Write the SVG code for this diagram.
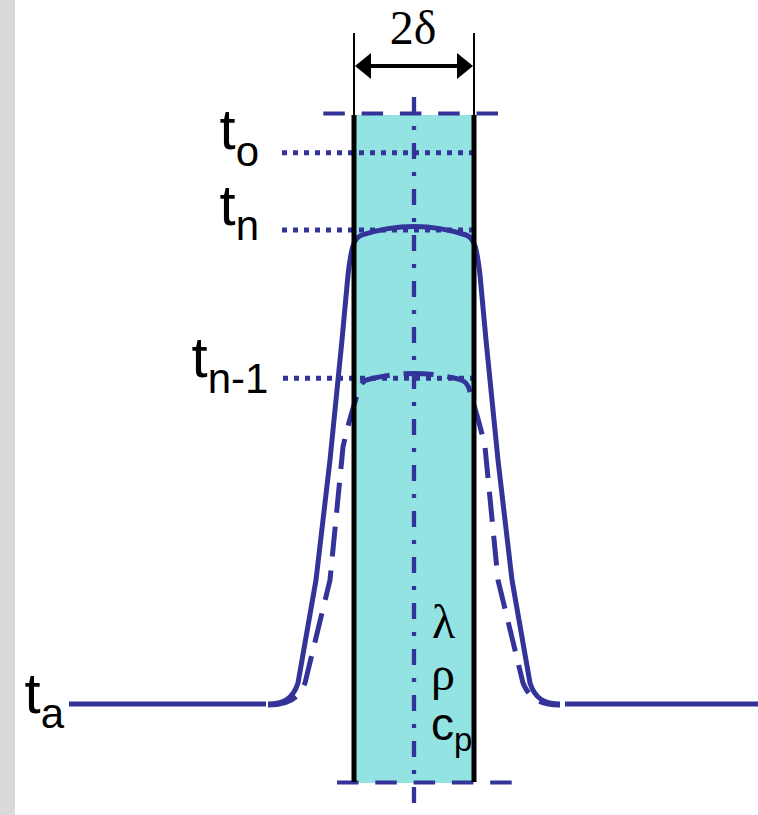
<svg xmlns="http://www.w3.org/2000/svg" width="758" height="815" viewBox="0 0 758 815">
<style>
.blue{fill:none;stroke:#333399;stroke-width:5}
.dot{fill:none;stroke:#333399;stroke-width:5;stroke-dasharray:5 6}
.dash{fill:none;stroke:#333399;stroke-width:4;stroke-dasharray:21.5 16.8}
.lbl{font-family:"Liberation Sans",Arial,sans-serif;fill:#000}
.grk{font-family:"Liberation Serif","Times New Roman",serif;fill:#000}
</style>
<rect x="0" y="0" width="758" height="815" fill="#fff"/>
<rect x="0" y="0" width="15" height="815" fill="#d9d9d9"/>
<g id="plate">
<rect x="354" y="115" width="120" height="668" fill="#94e3e3"/>
<line class="dash" x1="323.3" y1="113.5" x2="498" y2="113.5"/>
<line class="dash" x1="337" y1="782.5" x2="512" y2="782.5"/>
<line x1="414" y1="97" x2="414" y2="815" stroke="#333399" stroke-width="4.3" stroke-dasharray="16 13 4 13"/>
</g>
<g id="levels">
<line class="dot" x1="282" y1="152.7" x2="472" y2="152.7"/>
<line class="dot" x1="282" y1="230" x2="472" y2="230"/>
<line class="dot" x1="283" y1="378.3" x2="481" y2="378.3"/>
</g>
<g id="curves">
<line class="blue" x1="69" y1="704" x2="266" y2="704"/>
<line class="blue" x1="565" y1="704" x2="758" y2="704"/>
<path class="blue" stroke-linejoin="round" d="M 268 704 C 283 704, 293 699, 298 683 L 316 580 L 330 460 L 342 340 L 348 275 C 351 250, 353 238, 362 235 Q 414 218 466 235 C 475 238, 477 250, 480 275 L 486 340 L 498 460 L 512 580 L 530 683 C 535 699, 545 704, 560 704"/>
<path class="blue" stroke-dasharray="30 14" d="M 268 705 C 287 705, 298 700, 305 683 L 330 580 L 343 447 C 350 415, 356 400, 358 392 C 360 383, 364 380, 370 379 Q 414 368 458 379 C 464 380, 468 383, 470 392 C 472 400, 478 415, 485 447 L 498 580 L 523 683 C 530 700, 541 705, 560 705"/>
</g>
<g id="walls">
<line x1="354" y1="33" x2="354" y2="115" stroke="#000" stroke-width="2"/>
<line x1="474" y1="33" x2="474" y2="115" stroke="#000" stroke-width="2"/>
<line x1="354" y1="115" x2="354" y2="782" stroke="#000" stroke-width="5"/>
<line x1="474" y1="115" x2="474" y2="782" stroke="#000" stroke-width="5"/>
</g>
<g id="dimension">
<line x1="366" y1="66" x2="462" y2="66" stroke="#000" stroke-width="4"/>
<polygon points="355,66 371,53 371,79" fill="#000"/>
<polygon points="473,66 457,53 457,79" fill="#000"/>
<text class="grk" x="413" y="43.5" font-size="48" text-anchor="middle">2δ</text>
</g>
<g id="labels">
<text class="lbl" x="219.5" y="149" font-size="58">t<tspan font-size="42" dy="17">o</tspan></text>
<text class="lbl" x="219.5" y="225" font-size="58">t<tspan font-size="42" dy="15">n</tspan></text>
<text class="lbl" x="191.5" y="377" font-size="58">t<tspan font-size="42" dy="16">n-1</tspan></text>
<text class="lbl" x="24.5" y="713" font-size="58">t<tspan font-size="42" dy="14.5">a</tspan></text>
<text class="grk" x="432" y="638" font-size="48">λ</text>
<text class="grk" x="431" y="690" font-size="48">ρ</text>
<text class="lbl" x="431" y="740" font-size="46">c<tspan font-size="33" dy="11">p</tspan></text>
</g>
</svg>
